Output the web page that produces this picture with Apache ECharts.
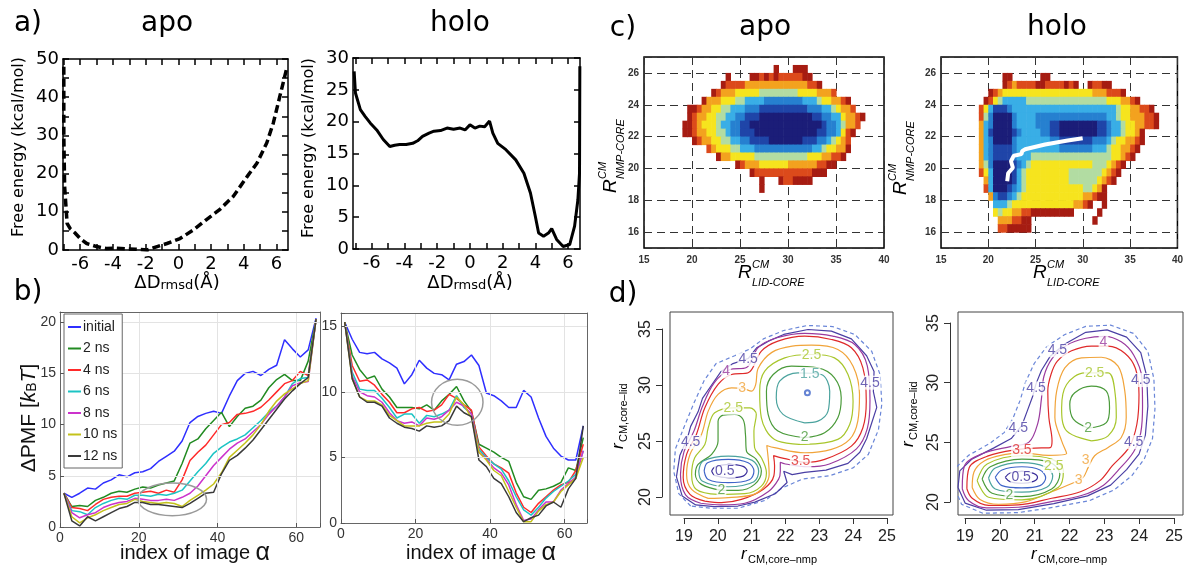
<!DOCTYPE html>
<html>
<head>
<meta charset="utf-8">
<title>Free energy landscapes</title>
<script src="https://cdn.jsdelivr.net/npm/echarts@6.0.0/dist/echarts.min.js"></script>
<style>
  html, body { margin: 0; padding: 0; background: #fff; }
  #chart { width: 1186px; height: 566px; }
</style>
</head>
<body>
<div id="chart"></div>
<script>
// ---------- a) free energy vs ΔDrmsd ----------
const aApoX = [-7.0, -7.0, -6.95, -6.8, -6.6, -6.3, -6.0, -5.6, -5.0, -4.4, -3.8, -3.2, -2.6, -1.9, -1.3, -0.7, 0.1, 0.9, 1.7, 2.5, 3.35, 4.2, 4.8, 5.4, 5.8, 6.2, 6.6];
const aApoG = [48, 30, 16.6, 7.0, 5.5, 4.4, 3.0, 1.7, 0.9, 0.4, 0.5, 0.3, 0.2, 0.0, 0.9, 1.7, 3.0, 5.2, 7.9, 10.5, 14.0, 19.2, 22.7, 28.0, 33.2, 40.2, 47.2];
const aHoloX = [-7.08, -7.0, -6.7, -6.4, -6.1, -5.7, -5.3, -4.9, -4.6, -4.3, -3.9, -3.5, -3.2, -2.9, -2.5, -2.2, -1.8, -1.4, -1.0, -0.6, -0.3, 0, 0.3, 0.6, 0.9, 1.2, 1.4, 1.7, 2.2, 2.8, 3.3, 3.7, 4.0, 4.2, 4.5, 4.8, 5.0, 5.3, 5.7, 6.1, 6.4, 6.6, 6.7, 6.72];
const aHoloG = [27.9, 24.5, 21.9, 20.8, 19.8, 18.7, 17.2, 16.1, 16.3, 16.4, 16.4, 16.6, 17.0, 17.7, 18.2, 18.5, 18.6, 19.0, 18.8, 19.0, 18.7, 19.5, 19.0, 19.3, 19.2, 20.1, 18.2, 16.6, 15.6, 14.0, 11.9, 8.8, 5.1, 2.5, 2.0, 2.5, 3.2, 1.5, 0.4, 0.7, 3.6, 7.7, 11.9, 28.7];
const aTickX = [-7, -6, -5, -4, -3, -2, -1, 0, 1, 2, 3, 4, 5, 6];
const aLabelX = [-6, -4, -2, 0, 2, 4, 6];

// ---------- b) ΔPMF vs image index ----------
const bNames = ['initial', '2 ns', '4 ns', '6 ns', '8 ns', '10 ns', '12 ns'];
const bColors = ['#2f2fff', '#228b22', '#ff2a2a', '#1cc4c4', '#cc33cc', '#c4c21a', '#3a3a3a'];
const bIndex = [1, 3, 5, 7, 9, 11, 13, 15, 17, 19, 21, 23, 25, 27, 29, 31, 33, 35, 37, 39, 41, 43, 45, 47, 49, 51, 53, 55, 57, 59, 61, 63, 65];
const bApoInitial = [3.3, 2.9, 3.3, 3.8, 3.7, 4.3, 4.6, 5.1, 4.9, 5.3, 5.4, 5.7, 6.4, 6.9, 7.4, 8.4, 10.2, 10.8, 11.1, 11.3, 11.1, 12.8, 14.3, 15.0, 15.2, 14.8, 15.4, 15.8, 18.3, 17.4, 16.6, 17.3, 20.4];
const bApo2 = [3.3, 2.0, 2.1, 2.0, 2.6, 2.9, 3.3, 3.5, 3.4, 3.7, 3.9, 3.8, 4.1, 4.3, 4.5, 6.2, 8.2, 8.6, 9.6, 10.4, 11.2, 9.8, 10.8, 11.6, 11.8, 12.4, 13.6, 14.4, 14.9, 14.3, 14.3, 16.2, 20.3];
const bApo4 = [3.3, 1.9, 1.8, 1.6, 2.2, 2.7, 2.9, 3.0, 3.0, 3.3, 3.4, 3.5, 3.3, 3.6, 3.4, 4.6, 6.5, 7.3, 8.0, 9.0, 10.0, 10.2, 11.0, 11.1, 11.3, 11.7, 12.4, 13.2, 14.0, 14.3, 15.2, 14.8, 20.3];
const bApo6 = [3.3, 1.6, 1.5, 1.2, 1.9, 2.3, 2.6, 2.8, 2.7, 3.1, 3.1, 3.0, 3.2, 3.1, 3.3, 3.6, 4.5, 5.4, 6.2, 7.2, 7.8, 8.3, 8.6, 9.0, 9.7, 10.4, 11.2, 11.8, 12.7, 14.0, 14.5, 14.6, 20.3];
const bApo8 = [3.3, 1.4, 0.9, 1.2, 1.4, 1.9, 2.2, 2.4, 2.5, 2.8, 2.7, 2.6, 2.6, 2.7, 2.6, 2.9, 3.3, 4.0, 5.0, 6.0, 6.8, 7.6, 8.2, 8.6, 9.3, 10.0, 11.0, 11.8, 12.7, 13.8, 14.1, 14.2, 20.3];
const bApo10 = [3.3, 1.0, 0.4, 0.9, 1.2, 1.6, 1.9, 2.2, 2.3, 2.7, 2.5, 2.4, 2.3, 2.4, 2.3, 2.0, 2.6, 3.1, 3.6, 4.2, 5.3, 6.8, 7.5, 8.2, 9.0, 10.0, 11.3, 12.3, 13.0, 13.5, 14.0, 14.3, 20.3];
const bApo12 = [3.3, 0.6, 0.1, 1.0, 0.6, 1.0, 1.4, 1.8, 2.0, 2.4, 2.4, 2.2, 2.2, 2.1, 2.0, 1.9, 2.3, 2.8, 3.3, 3.4, 5.2, 6.5, 7.0, 7.7, 8.5, 9.5, 10.5, 11.5, 12.5, 13.3, 14.0, 14.6, 20.3];
const bHoloInitial = [15.3, 14.0, 13.0, 12.9, 13.0, 12.5, 12.2, 11.8, 10.6, 11.3, 12.4, 11.8, 11.4, 11.3, 10.9, 12.1, 12.3, 12.8, 12.0, 9.9, 9.7, 9.3, 8.8, 8.8, 10.1, 9.6, 8.0, 6.6, 5.7, 5.1, 4.8, 4.8, 7.4];
const bHolo2 = [15.3, 12.8, 11.7, 11.0, 11.2, 10.2, 9.6, 8.8, 8.8, 8.8, 8.7, 9.0, 8.6, 9.3, 9.8, 10.4, 9.3, 8.5, 6.0, 5.7, 5.4, 5.0, 4.7, 3.1, 2.0, 1.8, 2.5, 2.6, 2.8, 3.1, 4.2, 4.0, 6.5];
const bHolo4 = [15.3, 12.0, 10.8, 10.9, 10.5, 9.8, 9.2, 8.4, 8.4, 8.7, 8.8, 8.5, 8.6, 9.0, 9.8, 9.5, 9.0, 8.6, 5.8, 5.1, 4.5, 4.2, 3.8, 2.3, 1.2, 0.8, 1.5, 2.0, 2.5, 2.9, 3.1, 4.0, 6.0];
const bHolo6 = [15.3, 11.5, 10.2, 10.1, 10.1, 9.5, 8.8, 8.0, 8.3, 8.3, 7.6, 8.2, 8.1, 8.3, 8.6, 9.7, 8.8, 8.3, 5.6, 5.0, 4.5, 4.1, 3.2, 2.0, 1.0, 0.6, 1.2, 1.9, 2.4, 2.8, 3.2, 3.7, 5.5];
const bHolo8 = [15.3, 11.2, 10.0, 9.7, 9.6, 9.2, 8.4, 7.8, 7.6, 7.7, 7.4, 8.0, 7.9, 8.1, 8.6, 9.2, 8.9, 8.3, 5.4, 4.9, 4.2, 3.8, 2.9, 1.4, 0.2, 0.3, 1.0, 1.6, 1.6, 2.5, 3.0, 3.5, 5.5];
const bHolo10 = [15.3, 11.0, 9.6, 9.3, 9.3, 9.0, 8.2, 7.8, 7.4, 7.4, 7.4, 7.6, 7.7, 7.7, 8.3, 9.6, 9.0, 8.0, 5.4, 4.8, 4.0, 3.6, 2.4, 1.2, 0.1, 0.1, 0.9, 1.4, 1.6, 2.4, 2.9, 3.4, 5.0];
const bHolo12 = [15.3, 11.0, 9.6, 9.2, 9.2, 8.9, 8.0, 7.6, 7.3, 7.2, 7.0, 7.4, 7.3, 7.4, 7.8, 8.9, 8.4, 8.1, 4.8, 4.3, 3.4, 3.0, 2.0, 0.8, 0.1, 0.4, 0.6, 1.3, 1.6, 1.2, 2.6, 3.4, 7.4];
// highlighted regions: [centre x, centre y, radius x, radius y]
const bApoRing = [28.5, 2.7, 8.7, 1.6];
const bHoloRing = [31.2, 9.2, 6.9, 1.75];

// ---------- c) free energy surfaces (level per 0.5 x 0.5 cell, '.' = no data) ----------
const cX0 = 18.75;   // centre of first column
const cY0 = 26.75;   // centre of first row
const cStep = 0.5;
const cColors = ['#ffffff', '#1b1d78', '#1f45a8', '#2680d0', '#39aee6', '#b2dca2', '#f6e41e', '#f3a21f', '#dc4a1b', '#a61c12'];
const cApoRows = [
  '.......... .......... .......... ..........',
  '.......... .......... 9...999... ..........',
  '.......... 9....99898 98888899.. ..........',
  '.........9 8888777777 7777777889 ..........',
  '.......987 7766666555 5555566667 778.......',
  '.....97776 6655444433 3333334445 667789....',
  '..99877665 5444333222 2222222333 4456778...',
  '..98776655 4433222111 1111111122 334467789.',
  '.998766654 4332211111 1111111111 23345778..',
  '.998776655 4332221111 1111111112 2334689...',
  '...9877665 5443322221 1111112223 345678....',
  '......8766 6554443333 3333333344 566779....',
  '........97 7666665555 5555555666 77889.....',
  '.......... ..98777666 6667777778 899.......',
  '.......... .....98888 8888888899 9.........',
  '.......... .......9.. .9889999.. ..........',
  '.......... .......9.. .......... ..........'
];
const cHoloRows = [
  '',
  '',
  '......99.. ....99.... .......... ..........',
  '......9878 8889988889 89..98899. ..........',
  '...9876666 6666666666 6666677788 89........',
  '..98654444 4555555555 5555555566 67789.....',
  '.864222344 4444444444 4444444444 56677889..',
  '.853111134 4443333333 3333333344 566777889.',
  '.743111134 4443332211 1111112234 456677889.',
  '.742111123 4444332211 1111112234 456679....',
  '.743111134 4444443322 2222233345 667789....',
  '.743222234 4444444433 3333344456 67789.....',
  '.743222234 4455555555 5555555556 6789......',
  '.753111123 4566666666 6666655567 89........',
  '.864111124 5666666666 5555555678 9.........',
  '..74111124 5666666666 5555556789 ..........',
  '..84111234 5666666666 66655679.. ..........',
  '...7322345 6666666666 66677899.. ..........',
  '....444566 6666666666 67789..9.. ..........',
  '....656677 8899999999 9.....9... ..........',
  '.....77788 99........ .....9.... ..........',
  '.....88999 99........ .......... ..........'
];
const cHoloPath = [[29.98, 21.9], [28.4, 21.75], [26.0, 21.5], [23.9, 21.2], [23.6, 21.1], [23.5, 20.9], [22.7, 20.8], [22.4, 20.45], [22.6, 20.04], [22.1, 19.7], [22.0, 19.2]];

// ---------- d) contour lines ----------
const dColors = { '0.5': '#3a2d9a', '1': '#3f64c8', '1.5': '#4ba39e', '2': '#4b9b3b', '2.5': '#a8c62c', '3': '#f1a43a', '3.5': '#df2a2a', '4': '#9a3a9e', '4.5': '#4a3fa4', '5': '#6a86d8' };
const dL05 = [[19.82, 22.32], [19.91, 22.67], [20.33, 22.91], [20.75, 22.73], [20.87, 22.32], [20.75, 21.87], [20.33, 21.72], [19.91, 21.93], [19.82, 22.32]];
const dL10 = [[19.6, 22.32], [19.7, 23.06], [20.31, 23.36], [20.9, 23.06], [21.07, 22.32], [20.95, 21.57], [20.31, 21.28], [19.72, 21.57], [19.6, 22.32]];
const dL15a = [[19.44, 22.32], [19.57, 23.21], [20.31, 23.65], [21.02, 23.27], [21.21, 22.32], [21.07, 21.37], [20.31, 20.92], [19.54, 21.43], [19.44, 22.32]];
const dL15b = [[22.57, 26.62], [21.93, 27.37], [21.73, 28.85], [21.83, 30.34], [22.37, 31.08], [23.06, 30.93], [23.31, 29.44], [23.26, 27.66], [22.96, 26.77], [22.57, 26.62]];
const dL20a = [[20.11, 20.59], [19.52, 21.13], [19.34, 22.02], [19.42, 22.91], [19.82, 23.8], [20.01, 24.99], [20.01, 26.77], [20.16, 27.31], [20.5, 27.37], [20.75, 26.92], [20.82, 25.58], [20.85, 24.1], [21.14, 23.36], [21.29, 22.32], [21.09, 21.13], [20.6, 20.59], [20.11, 20.59]];
const dL20b = [[22.57, 25.29], [21.78, 25.88], [21.49, 27.37], [21.44, 29.44], [21.64, 30.93], [22.18, 31.67], [22.96, 31.52], [23.45, 30.63], [23.65, 28.85], [23.55, 27.07], [23.16, 25.73], [22.57, 25.29]];
const dL25a = [[20.01, 20.24], [19.37, 20.68], [19.23, 22.02], [19.32, 23.5], [19.62, 24.69], [19.72, 26.18], [19.91, 27.51], [20.46, 27.96], [20.95, 27.96], [21.14, 27.37], [21.07, 25.88], [21.09, 24.4], [21.29, 23.5], [21.44, 22.17], [21.29, 20.98], [20.8, 20.3], [20.01, 20.24]];
const dL25b = [[22.57, 24.69], [21.68, 25.14], [21.29, 27.07], [21.24, 29.44], [21.39, 31.23], [21.98, 32.41], [22.77, 32.71], [23.45, 32.41], [23.85, 30.93], [24.0, 28.55], [23.9, 26.47], [23.55, 25.14], [22.57, 24.69]];
const dL30 = [[19.72, 19.88], [19.23, 20.68], [19.08, 22.02], [19.18, 23.8], [19.52, 25.58], [19.72, 27.66], [20.01, 29.15], [20.41, 29.74], [20.75, 29.68], [21.0, 29.45], [21.12, 30.0], [21.2, 31.5], [21.6, 32.9], [22.2, 33.45], [22.77, 33.54], [23.55, 33.16], [24.0, 31.67], [24.19, 29.15], [24.14, 26.77], [23.9, 25.14], [23.36, 24.25], [22.57, 23.95], [21.68, 24.4], [21.45, 24.6], [21.5, 23.2], [21.52, 22.0], [21.15, 20.35], [20.31, 19.95], [19.72, 19.88]];
const dL35 = [[19.62, 19.64], [19.18, 20.24], [18.98, 21.72], [19.08, 23.8], [19.37, 25.58], [19.62, 27.96], [20.01, 30.04], [20.41, 30.93], [20.9, 31.08], [21.29, 33.01], [21.78, 33.9], [22.57, 34.35], [23.36, 34.05], [23.95, 33.31], [24.29, 31.52], [24.39, 28.55], [24.29, 26.18], [23.95, 24.54], [23.16, 23.36], [22.6, 23.1], [21.95, 23.45], [21.65, 23.7], [21.68, 22.8], [21.66, 21.9], [21.35, 20.7], [20.7, 19.79], [20.11, 19.5], [19.62, 19.64]];
const dL40 = [[19.5, 19.45], [19.05, 20.2], [18.9, 22.0], [19.0, 24.0], [19.3, 25.9], [19.55, 28.1], [19.9, 30.2], [20.35, 31.35], [20.85, 31.55], [21.2, 33.35], [21.75, 34.2], [22.57, 34.6], [23.4, 34.35], [24.05, 33.6], [24.42, 31.7], [24.5, 28.6], [24.42, 26.1], [24.1, 24.3], [23.3, 22.95], [22.65, 22.7], [22.0, 22.95], [21.85, 23.1], [21.85, 22.3], [21.8, 21.6], [21.5, 20.5], [20.8, 19.45], [20.1, 19.3], [19.5, 19.45]];
const dL45 = [[19.35, 19.3], [18.95, 20.1], [18.78, 21.8], [18.88, 23.7], [19.1, 25.2], [19.2, 26.3], [19.42, 27.6], [19.55, 28.8], [19.8, 29.9], [20.1, 31.2], [20.45, 31.9], [20.9, 32.35], [21.15, 33.3], [21.5, 33.9], [21.95, 34.5], [22.67, 34.94], [23.36, 34.79], [23.95, 34.1], [24.4, 32.6], [24.62, 31.2], [24.6, 29.4], [24.7, 28.0], [24.55, 26.6], [24.4, 25.2], [24.2, 24.0], [23.85, 23.0], [23.2, 22.4], [22.57, 22.2], [22.2, 22.0], [21.95, 22.3], [22.05, 21.3], [21.7, 20.3], [21.1, 19.55], [20.6, 19.2], [19.9, 19.15], [19.35, 19.3]];
const dL50 = [[19.2, 19.2], [18.85, 20.3], [18.7, 22.3], [18.75, 24.3], [19.0, 26.2], [19.3, 28.4], [19.6, 30.4], [19.95, 31.9], [20.5, 32.6], [20.95, 33.2], [21.35, 34.1], [21.95, 34.85], [22.65, 35.3], [23.4, 35.2], [24.05, 34.5], [24.55, 33.0], [24.8, 30.9], [24.85, 28.3], [24.75, 26.0], [24.45, 23.8], [24.0, 22.6], [23.3, 21.9], [22.5, 21.6], [21.9, 20.8], [21.4, 19.7], [20.6, 19.0], [19.8, 19.0], [19.2, 19.2]];
const dR05 = [[20.13, 22.06], [20.27, 22.42], [20.6, 22.56], [20.93, 22.39], [21.04, 22.06], [20.93, 21.72], [20.6, 21.56], [20.27, 21.69], [20.13, 22.06]];
const dR10 = [[19.85, 22.06], [20.04, 22.67], [20.6, 22.94], [21.11, 22.67], [21.27, 22.0], [21.11, 21.36], [20.6, 21.17], [20.04, 21.36], [19.85, 22.06]];
const dR15 = [[19.66, 22.0], [19.85, 22.83], [20.6, 23.28], [21.25, 22.94], [21.47, 22.19], [21.3, 21.22], [20.6, 20.81], [19.85, 21.08], [19.66, 22.0]];
const dR20a = [[19.48, 21.92], [19.71, 22.94], [20.6, 23.58], [21.39, 23.31], [21.67, 22.33], [21.44, 21.08], [20.6, 20.44], [19.76, 20.72], [19.48, 21.92]];
const dR20b = [[22.47, 26.17], [22.05, 26.92], [21.95, 28.17], [22.09, 29.14], [22.56, 29.69], [22.98, 29.28], [23.07, 27.89], [22.98, 26.64], [22.47, 26.17]];
const dR25a = [[19.34, 21.78], [19.62, 23.17], [20.6, 23.86], [21.44, 23.58], [21.77, 22.61], [21.63, 21.22], [20.6, 20.17], [19.66, 20.39], [19.34, 21.78]];
const dR25b = [[22.56, 25.11], [21.86, 25.94], [21.72, 27.89], [21.86, 29.83], [22.37, 30.81], [23.03, 30.81], [23.23, 29.0], [23.26, 27.06], [23.03, 25.53], [22.56, 25.11]];
const dR30 = [[19.2, 21.2], [19.25, 22.5], [19.55, 23.45], [20.1, 23.95], [20.6, 24.1], [21.35, 23.9], [21.86, 24.05], [21.72, 25.11], [21.53, 27.06], [21.58, 29.28], [21.81, 31.22], [22.28, 32.06], [22.84, 32.11], [23.31, 31.36], [23.5, 29.28], [23.54, 27.06], [23.4, 25.39], [23.03, 24.56], [22.65, 23.86], [22.47, 22.89], [22.33, 22.06], [22.09, 21.64], [21.44, 20.85], [20.69, 20.0], [19.94, 19.8], [19.42, 20.2], [19.2, 21.2]];
const dR35 = [[19.05, 21.1], [19.12, 22.9], [19.65, 23.85], [20.5, 24.4], [20.97, 24.5], [21.4, 24.55], [21.45, 25.11], [21.36, 27.06], [21.33, 29.28], [21.42, 30.67], [21.6, 31.78], [22.0, 32.65], [22.56, 33.05], [23.03, 33.05], [23.5, 32.45], [23.8, 31.17], [23.9, 29.0], [23.84, 26.5], [23.62, 24.56], [23.15, 23.03], [22.8, 21.78], [22.25, 20.85], [21.44, 20.3], [20.5, 19.75], [19.66, 19.7], [19.2, 20.3], [19.05, 21.1]];
const dR40 = [[18.92, 21.1], [18.98, 23.0], [19.5, 24.05], [20.3, 24.65], [20.8, 25.0], [21.05, 26.6], [21.15, 28.6], [21.22, 30.5], [21.45, 32.0], [21.85, 33.1], [22.4, 33.7], [22.93, 33.86], [23.4, 33.4], [23.75, 32.3], [23.98, 30.4], [24.0, 28.0], [23.95, 25.8], [23.75, 24.2], [23.3, 22.6], [22.9, 21.4], [22.3, 20.55], [21.4, 20.0], [20.5, 19.55], [19.6, 19.5], [19.1, 20.1], [18.92, 21.1]];
const dR45 = [[18.8, 21.2], [18.85, 22.6], [19.2, 23.6], [19.8, 24.5], [20.3, 25.3], [20.6, 26.4], [20.75, 27.6], [20.9, 28.8], [21.0, 29.9], [21.15, 31.0], [21.4, 32.2], [21.8, 33.2], [22.4, 34.2], [23.0, 34.4], [23.55, 33.8], [23.95, 32.5], [24.12, 30.5], [24.15, 28.0], [24.08, 25.6], [23.9, 24.0], [23.55, 22.7], [23.1, 21.4], [22.45, 20.5], [21.5, 19.85], [20.5, 19.35], [19.6, 19.3], [19.0, 19.9], [18.8, 21.2]];
const dR50 = [[18.7, 21.2], [18.75, 22.9], [19.1, 23.9], [19.7, 24.9], [20.1, 25.8], [20.35, 27.0], [20.55, 28.5], [20.7, 30.0], [20.95, 31.6], [21.3, 33.0], [21.8, 34.0], [22.4, 34.7], [23.1, 34.8], [23.75, 34.1], [24.15, 32.6], [24.32, 30.3], [24.35, 27.8], [24.28, 25.3], [24.05, 23.6], [23.7, 22.2], [23.2, 21.0], [22.5, 20.1], [21.5, 19.55], [20.5, 19.1], [19.5, 19.05], [18.9, 19.8], [18.7, 21.2]];
const dLeftContours = [[dL50, '5'], [dL45, '4.5'], [dL40, '4'], [dL35, '3.5'], [dL30, '3'], [dL25a, '2.5'], [dL25b, '2.5'], [dL20a, '2'], [dL20b, '2'], [dL15a, '1.5'], [dL15b, '1.5'], [dL10, '1'], [dL05, '0.5']];
const dRightContours = [[dR50, '5'], [dR45, '4.5'], [dR40, '4'], [dR35, '3.5'], [dR30, '3'], [dR25a, '2.5'], [dR25b, '2.5'], [dR20a, '2'], [dR20b, '2'], [dR15, '1.5'], [dR10, '1'], [dR05, '0.5']];
const dLeftLabels = [['0.5', 20.21, 22.32], ['2', 20.11, 20.62], ['2.5', 20.46, 27.96], ['3', 20.72, 29.68], ['1.5', 22.72, 30.95], ['2.5', 22.77, 32.65], ['2', 22.57, 25.35], ['3.5', 22.45, 23.2], ['4.5', 20.9, 32.3], ['4', 20.25, 31.2], ['4.5', 19.2, 24.9], ['4.5', 24.5, 30.2]];
const dRightLabels = [['0.5', 20.58, 22.06], ['2', 20.25, 20.55], ['2.5', 21.5, 23.0], ['3.5', 20.6, 24.3], ['3', 22.4, 23.5], ['3', 22.2, 21.85], ['2.5', 22.65, 30.8], ['2', 22.47, 26.2], ['4', 22.9, 33.4], ['4.5', 21.6, 32.7], ['4.5', 21.0, 29.5], ['4.5', 20.5, 26.2], ['4.5', 23.95, 30.2], ['4.5', 23.75, 25.0]];
const dLeftDot = [22.65, 29.3];

// ---------- helpers ----------
const FA = 'DejaVu Sans';
const FB = 'Liberation Sans';
const pairs = (xs, ys) => xs.map((x, i) => [x, ys[i]]);

function cellData(rows) {
  const out = [];
  rows.forEach((row, r) => {
    const s = row.replace(/ /g, '');
    for (let i = 0; i < s.length; i++) {
      if (s[i] !== '.') out.push([cX0 + i * cStep, cY0 - r * cStep, Number(s[i])]);
    }
  });
  return out;
}

function renderCell(params, api) {
  const x = api.value(0), y = api.value(1);
  const p0 = api.coord([x - cStep / 2, y + cStep / 2]);
  const p1 = api.coord([x + cStep / 2, y - cStep / 2]);
  return {
    type: 'rect',
    shape: { x: p0[0], y: p0[1], width: p1[0] - p0[0] + 0.6, height: p1[1] - p0[1] + 0.6 },
    style: { fill: cColors[api.value(2)] }
  };
}

function renderRing(params, api) {
  const c = api.coord([api.value(0), api.value(1)]);
  const s = api.size([api.value(2), api.value(3)]);
  return {
    type: 'ellipse',
    shape: { cx: c[0], cy: c[1], rx: s[0], ry: s[1] },
    style: { fill: 'none', stroke: '#9a9a9a', lineWidth: 1.5 }
  };
}

function aXAxis(grid, min, max, top) {
  return {
    type: 'value', gridIndex: grid, min, max, position: top ? 'top' : 'bottom', z: 8,
    axisLine: { show: true, onZero: false, lineStyle: { color: '#000', width: 1.5 } },
    axisTick: { show: true, inside: true, length: 6, customValues: aTickX, lineStyle: { color: '#000', width: 1.5 } },
    axisLabel: { show: !top, customValues: aLabelX, color: '#000', fontSize: 18, fontFamily: FA, margin: 5 },
    splitLine: { show: false }
  };
}
function aYAxis(grid, max, right) {
  return {
    type: 'value', gridIndex: grid, min: 0, max, interval: 5, position: right ? 'right' : 'left', z: 8,
    axisLine: { show: true, onZero: false, lineStyle: { color: '#000', width: 1.5 } },
    axisTick: { show: true, inside: true, length: 6, lineStyle: { color: '#000', width: 1.5 } },
    axisLabel: {
      show: !right, color: '#000', fontSize: 18, fontFamily: FA, margin: 4,
      formatter: v => (max > 30 && v % 10 !== 0) ? '' : String(v)
    },
    splitLine: { show: false }
  };
}
function bXAxis(grid) {
  return {
    type: 'value', gridIndex: grid, min: 0, max: 66, interval: 20, z: 8,
    axisLine: { show: true, onZero: false, lineStyle: { color: '#666' } },
    axisTick: { show: true, inside: true, length: 4, lineStyle: { color: '#555' } },
    axisLabel: { customValues: [0, 20, 40, 60], color: '#333', fontSize: 14, fontFamily: FB, margin: 4 },
    splitLine: { show: true, lineStyle: { color: '#e3e3e3', width: 1 } }
  };
}
function bYAxis(grid, max, labels) {
  return {
    type: 'value', gridIndex: grid, min: 0, max, interval: 5, z: 8,
    axisLine: { show: true, onZero: false, lineStyle: { color: '#666' } },
    axisTick: { show: true, inside: true, length: 4, lineStyle: { color: '#555' } },
    axisLabel: { customValues: labels, color: '#333', fontSize: 14, fontFamily: FB, margin: 4 },
    splitLine: { show: true, lineStyle: { color: '#e3e3e3', width: 1 } }
  };
}
const cDash = { color: '#333', type: [8, 5], width: 1 };
function cXAxis(grid) {
  return {
    type: 'value', gridIndex: grid, min: 15, max: 40, interval: 5,
    axisLine: { show: false, onZero: false }, axisTick: { show: false },
    axisLabel: { color: '#333', fontSize: 10, fontWeight: 'bold', fontFamily: FB, margin: 7 },
    splitLine: { show: true, lineStyle: cDash }
  };
}
function cYAxis(grid) {
  return {
    type: 'value', gridIndex: grid, min: 15, max: 27, splitNumber: 6,
    axisLine: { show: false, onZero: false }, axisTick: { show: false },
    axisLabel: { customValues: [16, 18, 20, 22, 24, 26], color: '#333', fontSize: 10, fontWeight: 'bold', fontFamily: FB, margin: 5 },
    splitLine: { show: true, lineStyle: cDash }
  };
}
const hidden = (grid, min, max) => ({ type: 'value', gridIndex: grid, min, max, show: false, axisLine: { onZero: false } });
function dXAxis(grid) {
  return {
    type: 'value', gridIndex: grid, min: 19, max: 25, interval: 1, position: 'bottom',
    axisLine: { show: true, onZero: false, lineStyle: { color: '#333', width: 1 } },
    axisTick: { show: true, inside: false, length: 6, lineStyle: { color: '#333' } },
    axisLabel: { color: '#222', fontSize: 16, fontFamily: FB, margin: 11 },
    splitLine: { show: false }
  };
}
function dYAxis(grid) {
  return {
    type: 'value', gridIndex: grid, min: 20, max: 35, interval: 5, position: 'left',
    axisLine: { show: true, onZero: false, lineStyle: { color: '#333', width: 1 } },
    axisTick: { show: true, inside: false, length: 6, lineStyle: { color: '#333' } },
    axisLabel: { color: '#222', fontSize: 16, fontFamily: FB, margin: 8, rotate: 90 },
    splitLine: { show: false }
  };
}

function txt(x, y, text, font, extra) {
  return Object.assign({
    type: 'text', x, y, silent: true,
    style: { text, font, fill: '#000', align: 'center', verticalAlign: 'middle' }
  }, extra || {});
}
function scripted(x, y, rotation, parts) {
  return {
    type: 'group', x, y, rotation, silent: true,
    children: parts.map(p => ({
      type: 'text', x: p[0], y: p[1],
      style: { text: p[2], font: p[3], fill: '#000', align: 'left', verticalAlign: 'middle' }
    }))
  };
}

// ---------- grids ----------
const grids = [
  { left: 63, top: 59, width: 225, height: 191 },    // 0 a apo
  { left: 353, top: 58, width: 227, height: 191 },   // 1 a holo
  { left: 60, top: 312, width: 260, height: 215 },   // 2 b apo
  { left: 341, top: 313, width: 246, height: 210 },  // 3 b holo
  { left: 644, top: 57, width: 240, height: 191 },   // 4 c apo
  { left: 941, top: 57, width: 239, height: 191 },   // 5 c holo
  { left: 670, top: 312, width: 223, height: 203 },  // 6 d left box
  { left: 958, top: 312, width: 225, height: 203 },  // 7 d right box
  { left: 684, top: 517, width: 203, height: 1 },    // 8 d left x axis
  { left: 662, top: 329, width: 1, height: 168 },    // 9 d left y axis
  { left: 965, top: 517, width: 213, height: 1 },    // 10 d right x axis
  { left: 950, top: 323, width: 1, height: 179 }     // 11 d right y axis
].map((g, i) => Object.assign({
  show: i >= 4 && i < 8,
  borderColor: i < 6 ? '#000' : '#444',
  borderWidth: i < 6 ? 1.5 : 1,
  backgroundColor: 'transparent',
  containLabel: false
}, g));

const xAxes = [
  aXAxis(0, -7.05, 6.7, false), aXAxis(0, -7.05, 6.7, true),
  aXAxis(1, -7.15, 6.73, false), aXAxis(1, -7.15, 6.73, true),
  bXAxis(2), bXAxis(3),
  cXAxis(4), cXAxis(5),
  hidden(6, 18.59, 25.18), hidden(7, 18.8, 25.14),
  dXAxis(8), hidden(9, 0, 1),
  dXAxis(10), hidden(11, 0, 1)
];
const yAxes = [
  aYAxis(0, 50, false), aYAxis(0, 50, true),
  aYAxis(1, 30, false), aYAxis(1, 30, true),
  bYAxis(2, 21, [0, 5, 10, 15, 20]), bYAxis(3, 16, [0, 5, 10, 15]),
  cYAxis(4), cYAxis(5),
  hidden(6, 18.4, 36.5), hidden(7, 18.9, 35.9),
  hidden(8, 0, 1), dYAxis(9),
  hidden(10, 0, 1), dYAxis(11)
];
// panel b has a box on all four sides: extra frame axes without labels
const bFrame = (grid, max, isX) => ({
  type: 'value', gridIndex: grid, min: 0, max, position: isX ? 'top' : 'right', z: 8,
  axisLine: { show: true, onZero: false, lineStyle: { color: '#666' } },
  axisTick: { show: false }, axisLabel: { show: false }, splitLine: { show: false }
});
xAxes.push(bFrame(2, 66, true), bFrame(3, 66, true));
yAxes.push(bFrame(2, 21, false), bFrame(3, 16, false));

// ---------- series ----------
const series = [];
series.push({
  type: 'line', xAxisIndex: 0, yAxisIndex: 0, data: pairs(aApoX, aApoG), symbol: 'none', silent: true,
  lineStyle: { color: '#000', width: 3.5, type: [8, 4] }
});
series.push({
  type: 'line', xAxisIndex: 2, yAxisIndex: 2, data: pairs(aHoloX, aHoloG), symbol: 'none', silent: true,
  lineStyle: { color: '#000', width: 3 }
});

const bApoSets = [bApoInitial, bApo2, bApo4, bApo6, bApo8, bApo10, bApo12];
const bHoloSets = [bHoloInitial, bHolo2, bHolo4, bHolo6, bHolo8, bHolo10, bHolo12];
[[4, bApoSets], [5, bHoloSets]].forEach(([ax, sets]) => {
  sets.forEach((vals, k) => {
    series.push({
      type: 'line', name: bNames[k], xAxisIndex: ax, yAxisIndex: ax, data: pairs(bIndex, vals),
      symbol: 'none', silent: true,
      lineStyle: { color: bColors[k], width: 1.5 }, itemStyle: { color: bColors[k] }
    });
  });
});
series.push({ type: 'custom', xAxisIndex: 4, yAxisIndex: 4, data: [bApoRing], renderItem: renderRing, encode: { x: 0, y: 1 }, silent: true, z: 5 });
series.push({ type: 'custom', xAxisIndex: 5, yAxisIndex: 5, data: [bHoloRing], renderItem: renderRing, encode: { x: 0, y: 1 }, silent: true, z: 5 });

series.push({ type: 'custom', xAxisIndex: 6, yAxisIndex: 6, data: cellData(cApoRows), renderItem: renderCell, encode: { x: 0, y: 1 }, silent: true });
series.push({ type: 'custom', xAxisIndex: 7, yAxisIndex: 7, data: cellData(cHoloRows), renderItem: renderCell, encode: { x: 0, y: 1 }, silent: true });
series.push({
  type: 'line', xAxisIndex: 7, yAxisIndex: 7, data: cHoloPath, symbol: 'none', silent: true, z: 4,
  lineStyle: { color: '#fff', width: 4 }
});

[[8, dLeftContours], [9, dRightContours]].forEach(([ax, list]) => {
  list.forEach(([pts, lvl]) => {
    const outer = lvl === '5' || lvl === '4.5';
    series.push({
      type: 'line', xAxisIndex: ax, yAxisIndex: ax, data: pts, symbol: 'none', silent: true,
      smooth: outer ? false : 0.35,
      lineStyle: { color: dColors[lvl], width: 1.2, type: lvl === '5' ? [4, 3] : 'solid' }
    });
  });
});
[[8, dLeftLabels], [9, dRightLabels]].forEach(([ax, list]) => {
  series.push({
    type: 'scatter', xAxisIndex: ax, yAxisIndex: ax, symbol: 'circle', symbolSize: 1, silent: true, z: 6,
    itemStyle: { color: 'rgba(255,255,255,0)' },
    data: list.map(l => ({
      name: l[0], value: [l[1], l[2]],
      label: { color: dColors[l[0]] }
    })),
    label: {
      show: true, position: 'inside', formatter: p => p.name,
      fontSize: 14, fontFamily: FB, backgroundColor: '#fff', padding: [0, 1]
    }
  });
});
series.push({
  type: 'scatter', xAxisIndex: 8, yAxisIndex: 8, data: [dLeftDot], symbol: 'emptyCircle', symbolSize: 5, silent: true,
  itemStyle: { color: dColors['1'], borderColor: dColors['1'], borderWidth: 1 }
});

// ---------- text ----------
const graphics = [
  txt(28, 24, 'a)', '28px ' + FA),
  txt(28, 293, 'b)', '28px ' + FA),
  txt(623, 29, 'c)', '28px ' + FA),
  txt(623, 295, 'd)', '28px ' + FA),
  txt(167, 24, 'apo', '28px ' + FA),
  txt(460, 24, 'holo', '28px ' + FA),
  txt(765, 28, 'apo', '28px ' + FA),
  txt(1057, 28, 'holo', '28px ' + FA),
  txt(19, 147, 'Free energy (kcal/mol)', '16px ' + FA, { rotation: Math.PI / 2 }),
  txt(309, 148, 'Free energy (kcal/mol)', '16px ' + FA, { rotation: Math.PI / 2 }),
  {
    type: 'text', x: 177, y: 283, silent: true,
    style: {
      text: '{n|ΔD}{s|rmsd}{n|(Å)}', align: 'center', verticalAlign: 'middle', fill: '#000',
      rich: { n: { fontSize: 18, fontFamily: FA }, s: { fontSize: 13, fontFamily: FA, verticalAlign: 'bottom' } }
    }
  },
  {
    type: 'text', x: 470, y: 283, silent: true,
    style: {
      text: '{n|ΔD}{s|rmsd}{n|(Å)}', align: 'center', verticalAlign: 'middle', fill: '#000',
      rich: { n: { fontSize: 18, fontFamily: FA }, s: { fontSize: 13, fontFamily: FA, verticalAlign: 'bottom' } }
    }
  },
  {
    type: 'text', x: 29, y: 418, rotation: Math.PI / 2, silent: true,
    style: {
      text: '{n|ΔPMF [}{i|k}{s|B}{i|T}{n|]}', align: 'center', verticalAlign: 'middle', fill: '#111',
      rich: {
        n: { fontSize: 21, fontFamily: FB },
        i: { fontSize: 21, fontFamily: FB, fontStyle: 'italic' },
        s: { fontSize: 14, fontFamily: FB, verticalAlign: 'bottom' }
      }
    }
  },
  {
    type: 'text', x: 195, y: 553, silent: true,
    style: {
      text: '{n|index of image }{a|α}', align: 'center', verticalAlign: 'middle', fill: '#111',
      rich: { n: { fontSize: 20, fontFamily: FB }, a: { fontSize: 25, fontFamily: FB } }
    }
  },
  {
    type: 'text', x: 481, y: 553, silent: true,
    style: {
      text: '{n|index of image }{a|α}', align: 'center', verticalAlign: 'middle', fill: '#111',
      rich: { n: { fontSize: 20, fontFamily: FB }, a: { fontSize: 25, fontFamily: FB } }
    }
  },
  scripted(738, 273, 0, [[0, 0, 'R', 'italic 19px ' + FB], [14, -8, 'CM', 'italic 11px ' + FB], [14, 10, 'LID-CORE', 'italic 11px ' + FB]]),
  scripted(1033, 273, 0, [[0, 0, 'R', 'italic 19px ' + FB], [14, -8, 'CM', 'italic 11px ' + FB], [14, 10, 'LID-CORE', 'italic 11px ' + FB]]),
  scripted(611, 193, Math.PI / 2, [[0, 0, 'R', 'italic 19px ' + FB], [14, -8, 'CM', 'italic 11px ' + FB], [14, 10, 'NMP-CORE', 'italic 11px ' + FB]]),
  scripted(901, 195, Math.PI / 2, [[0, 0, 'R', 'italic 19px ' + FB], [14, -8, 'CM', 'italic 11px ' + FB], [14, 10, 'NMP-CORE', 'italic 11px ' + FB]]),
  scripted(741, 555, 0, [[0, -1, 'r', 'italic 17px ' + FB], [7, 5, 'CM,core–nmp', '11px ' + FB]]),
  scripted(1031, 555, 0, [[0, -1, 'r', 'italic 17px ' + FB], [7, 5, 'CM,core–nmp', '11px ' + FB]]),
  scripted(619, 449, Math.PI / 2, [[0, -1, 'r', 'italic 17px ' + FB], [7, 5, 'CM,core–lid', '11px ' + FB]]),
  scripted(909, 447, Math.PI / 2, [[0, -1, 'r', 'italic 17px ' + FB], [7, 5, 'CM,core–lid', '11px ' + FB]])
];

const option = {
  backgroundColor: '#fff',
  animation: false,
  grid: grids,
  xAxis: xAxes,
  yAxis: yAxes,
  legend: {
    data: bNames, orient: 'vertical', left: 64, top: 314, z: 20,
    icon: 'rect', itemWidth: 13, itemHeight: 2, itemGap: 7.5,
    padding: [6, 5, 5, 4], borderColor: '#666', borderWidth: 1, backgroundColor: '#fff',
    textStyle: { fontSize: 14, fontFamily: FB, color: '#222', padding: [0, 0, 0, -3], lineHeight: 14 },
    selectedMode: false
  },
  series,
  graphic: graphics
};

const myChart = echarts.init(document.getElementById('chart'));
myChart.setOption(option);
</script>
</body>
</html>
